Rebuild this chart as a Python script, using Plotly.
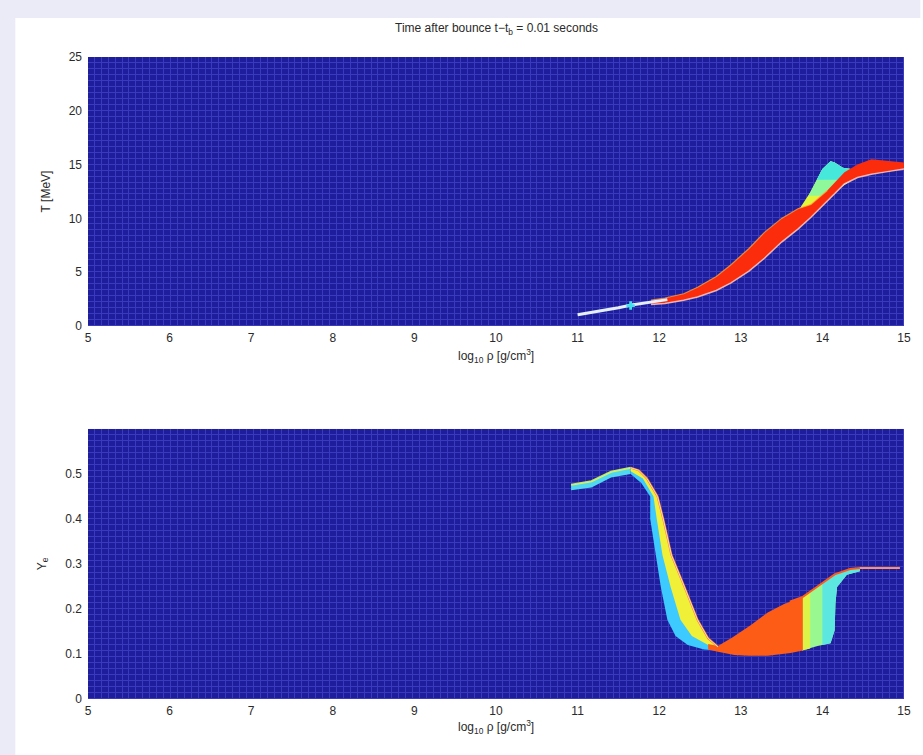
import plotly.graph_objects as go

# ---------------- data ----------------
# Top panel: temperature band T [MeV] vs log10 rho
t_start_rho = [11.0, 11.25, 11.5, 11.66, 11.9, 12.1]
t_start_T = [1.05, 1.35, 1.7, 1.95, 2.2, 2.45]
t_spot_rho = [11.65]
t_spot_T = [1.9]

t_band_rho = [11.9, 12.07, 12.3, 12.47, 12.7, 12.88, 13.1, 13.29, 13.5, 13.7, 13.86, 14.06, 14.27, 14.43, 14.6, 14.76, 15.0]
t_band_up = [2.4, 2.6, 3.0, 3.6, 4.6, 5.7, 7.2, 8.7, 10.0, 10.9, 11.3, 12.6, 14.3, 15.0, 15.5, 15.4, 15.2]
t_band_lo = [2.0, 2.1, 2.4, 2.7, 3.3, 4.0, 5.1, 6.3, 7.8, 9.0, 10.1, 11.6, 13.2, 13.8, 14.1, 14.3, 14.6]

bump_y_rho = [13.72, 13.85, 14.0, 14.1, 14.15, 14.25, 14.35, 14.35, 14.0, 13.72]
bump_y_T = [10.9, 12.4, 14.6, 15.3, 15.2, 14.7, 14.6, 13.5, 11.8, 10.4]
bump_g_rho = [13.83, 14.0, 14.1, 14.15, 14.25, 14.35, 14.35, 14.05, 13.83]
bump_g_T = [12.1, 14.6, 15.3, 15.2, 14.7, 14.6, 13.5, 12.1, 12.1]
bump_c_rho = [13.93, 14.0, 14.1, 14.15, 14.25, 14.35, 14.35, 13.93]
bump_c_T = [13.6, 14.6, 15.3, 15.2, 14.7, 14.6, 13.6, 13.6]

# Bottom panel: electron fraction Ye vs log10 rho
ye_start_rho = [10.92, 11.17, 11.41, 11.65]
ye_start_up = [0.476, 0.484, 0.505, 0.514]
ye_start_lo = [0.464, 0.470, 0.492, 0.500]

ye_desc_right_rho = [11.65, 11.75, 11.85, 11.98, 12.05, 12.15, 12.31, 12.47, 12.6, 12.72]
ye_desc_right = [0.514, 0.508, 0.49, 0.45, 0.40, 0.32, 0.249, 0.176, 0.135, 0.116]
ye_desc_left_rho = [11.65, 11.78, 11.89, 11.89, 11.95, 12.02, 12.1, 12.2, 12.35, 12.55, 12.72]
ye_desc_left = [0.500, 0.48, 0.45, 0.40, 0.33, 0.249, 0.176, 0.14, 0.12, 0.11, 0.108]
ye_desc_mid_rho = [11.65, 11.8, 11.93, 11.97, 12.04, 12.14, 12.26, 12.4, 12.6, 12.72]
ye_desc_mid = [0.506, 0.49, 0.45, 0.40, 0.32, 0.249, 0.176, 0.14, 0.12, 0.112]

ye_red_up_rho = [12.6, 12.72, 12.9, 13.12, 13.33, 13.53, 13.76]
ye_red_up = [0.122, 0.118, 0.137, 0.164, 0.192, 0.211, 0.226]
ye_red_lo_rho = [12.6, 12.72, 12.92, 13.1, 13.33, 13.61, 13.76]
ye_red_lo = [0.110, 0.105, 0.098, 0.096, 0.096, 0.102, 0.108]

ye_grn_up_rho = [13.75, 13.94, 14.15, 14.34, 14.46]
ye_grn_up = [0.226, 0.249, 0.276, 0.289, 0.291]
ye_grn_lo_rho = [13.75, 13.94, 14.1, 14.15, 14.16, 14.18, 14.3, 14.46]
ye_grn_lo = [0.108, 0.118, 0.124, 0.153, 0.213, 0.249, 0.276, 0.284]
ye_yel_rho = [13.75, 13.85, 13.85, 13.75]
ye_yel = [0.226, 0.237, 0.112, 0.108]
ye_cyn_rho = [14.0, 14.15, 14.34, 14.46, 14.46, 14.3, 14.18, 14.16, 14.15, 14.1, 14.0]
ye_cyn = [0.256, 0.276, 0.289, 0.291, 0.284, 0.276, 0.249, 0.213, 0.153, 0.124, 0.12]

ye_edge_rho = [13.6, 13.76, 13.94, 14.15, 14.34, 14.46, 14.7, 14.95]
ye_edge = [0.216, 0.227, 0.25, 0.277, 0.289, 0.291, 0.291, 0.291]

x_ticks = [5, 6, 7, 8, 9, 10, 11, 12, 13, 14, 15]
t_ticks = [0, 5, 10, 15, 20, 25]
ye_ticks = [0, 0.1, 0.2, 0.3, 0.4, 0.5]

# background mesh (uniform minimum value)
n_cols, n_rows = 118, 45

# ---------------- figure ----------------
fig = go.Figure()

def bg(xa, ya, ymax):
    fig.add_trace(go.Heatmap(
        z=[[0] * n_cols for _ in range(n_rows)],
        x0=5 + 10 / n_cols / 2, dx=10 / n_cols,
        y0=ymax / n_rows / 2, dy=ymax / n_rows,
        colorscale=[[0, '#1e1e9c'], [1, '#1e1e9c']], showscale=False,
        xgap=1, ygap=1, hoverinfo='skip', xaxis=xa, yaxis=ya))

def poly(xs, ys, color, xa, ya):
    fig.add_trace(go.Scatter(x=xs + [xs[0]], y=ys + [ys[0]], fill='toself', fillcolor=color,
                             mode='lines', line=dict(width=0, color=color),
                             hoverinfo='skip', showlegend=False, xaxis=xa, yaxis=ya))

def band(xu, yu, xl, yl, color, xa, ya):
    poly(list(xu) + list(xl)[::-1], list(yu) + list(yl)[::-1], color, xa, ya)

def line(xs, ys, color, w, xa, ya, op=1.0):
    fig.add_trace(go.Scatter(x=xs, y=ys, mode='lines', line=dict(color=color, width=w),
                             opacity=op, hoverinfo='skip', showlegend=False, xaxis=xa, yaxis=ya))

bg('x', 'y', 25)
bg('x2', 'y2', 0.6)

# ---- top panel ----
poly(bump_y_rho, bump_y_T, '#e2f63a', 'x', 'y')
poly(bump_g_rho, bump_g_T, '#8ef89a', 'x', 'y')
poly(bump_c_rho, bump_c_T, '#46e8dc', 'x', 'y')
band(t_band_rho, t_band_up, t_band_rho, t_band_lo, '#fb2c0c', 'x', 'y')
line(t_band_rho, t_band_lo, '#ffd8d0', 1.5, 'x', 'y', 0.8)
line(t_band_rho[:12], t_band_up[:12], '#ffb040', 1.2, 'x', 'y', 0.7)
line(t_start_rho, t_start_T, '#e4f0ff', 3, 'x', 'y')
fig.add_trace(go.Scatter(x=t_spot_rho, y=t_spot_T, mode='markers',
                         marker=dict(symbol='cross', size=7, color='#40e0e8'),
                         hoverinfo='skip', showlegend=False, xaxis='x', yaxis='y'))

# ---- bottom panel ----
band(ye_start_rho, ye_start_up, ye_start_rho, ye_start_lo, '#50d8f0', 'x2', 'y2')
line(ye_start_rho, ye_start_up, '#d8f860', 2, 'x2', 'y2', 0.9)
band(ye_desc_right_rho, ye_desc_right, ye_desc_left_rho, ye_desc_left, '#3ccaff', 'x2', 'y2')
band(ye_desc_right_rho, ye_desc_right, ye_desc_mid_rho, ye_desc_mid, '#f0f038', 'x2', 'y2')
band(ye_grn_up_rho, ye_grn_up, ye_grn_lo_rho, ye_grn_lo, '#9af890', 'x2', 'y2')
poly(ye_yel_rho, ye_yel, '#dcf448', 'x2', 'y2')
poly(ye_cyn_rho, ye_cyn, '#5ce8e0', 'x2', 'y2')
band(ye_red_up_rho, ye_red_up, ye_red_lo_rho, ye_red_lo, '#fc5c16', 'x2', 'y2')
line(ye_desc_right_rho, ye_desc_right, '#ff7a20', 2, 'x2', 'y2', 0.9)
line(ye_desc_right_rho, ye_desc_right, '#fff0e0', 1, 'x2', 'y2', 0.8)
line(ye_edge_rho, ye_edge, '#ff5a18', 2, 'x2', 'y2')
line(ye_edge_rho[-3:], ye_edge[-3:], '#ffe8d8', 1, 'x2', 'y2', 0.8)

# ---------------- layout ----------------
tickfont = dict(family='Liberation Sans, Arial, sans-serif', size=12, color='#2a2a2a')
x_common = dict(showgrid=False, zeroline=False, ticks='', tickfont=tickfont,
                showline=False, ticklabelstandoff=3)
y_common = dict(showgrid=False, zeroline=False, ticks='', tickfont=tickfont,
                showline=False, ticklabelstandoff=5)

fig.update_layout(
    width=923, height=755,
    margin=dict(l=88, r=16, t=57, b=56),
    paper_bgcolor='white', plot_bgcolor='#3a3abf',
    showlegend=False,
    xaxis=dict(domain=[0, 1], range=[5, 15], tickvals=x_ticks, anchor='y', **x_common),
    yaxis=dict(domain=[0.581, 1], range=[0, 25], tickvals=t_ticks, anchor='x', **y_common),
    xaxis2=dict(domain=[0, 1], range=[5, 15], tickvals=x_ticks, anchor='y2', **x_common),
    yaxis2=dict(domain=[0, 0.4206], range=[0, 0.6], tickvals=ye_ticks, anchor='x2', **y_common),
    font=dict(family='Liberation Sans, Arial, sans-serif', color='#2a2a2a'),
)

# lavender frame strips (top and left)
fig.add_shape(type='rect', xref='paper', yref='paper', x0=-0.108, x1=1.02, y0=1.0607, y1=1.09,
              fillcolor='#ebebf7', line_width=0, layer='below')
fig.add_shape(type='rect', xref='paper', yref='paper', x0=-0.108, x1=-0.0891, y0=-0.09, y1=1.09,
              fillcolor='#ebebf7', line_width=0, layer='below')

ann_font = dict(family='Liberation Sans, Arial, sans-serif', size=12, color='#2a2a2a')
fig.add_annotation(text='Time after bounce t\u2212t<sub>b</sub> = 0.01 seconds', xref='paper', yref='paper',
                   x=0.5, y=1.043, showarrow=False, font=ann_font, yanchor='middle')
fig.add_annotation(text='log<sub>10</sub> \u03c1 [g/cm<sup>3</sup>]', xref='paper', yref='paper',
                   x=0.5, y=0.535, showarrow=False, font=ann_font, yanchor='middle')
fig.add_annotation(text='log<sub>10</sub> \u03c1 [g/cm<sup>3</sup>]', xref='paper', yref='paper',
                   x=0.5, y=-0.043, showarrow=False, font=ann_font, yanchor='middle')
fig.add_annotation(text='T [MeV]', xref='paper', yref='paper', x=-0.052, y=0.79,
                   showarrow=False, font=ann_font, textangle=-90, xanchor='center', yanchor='middle')
fig.add_annotation(text='Y<sub>e</sub>', xref='paper', yref='paper', x=-0.055, y=0.21,
                   showarrow=False, font=ann_font, textangle=-90, xanchor='center', yanchor='middle')

fig.write_html('out.html')
